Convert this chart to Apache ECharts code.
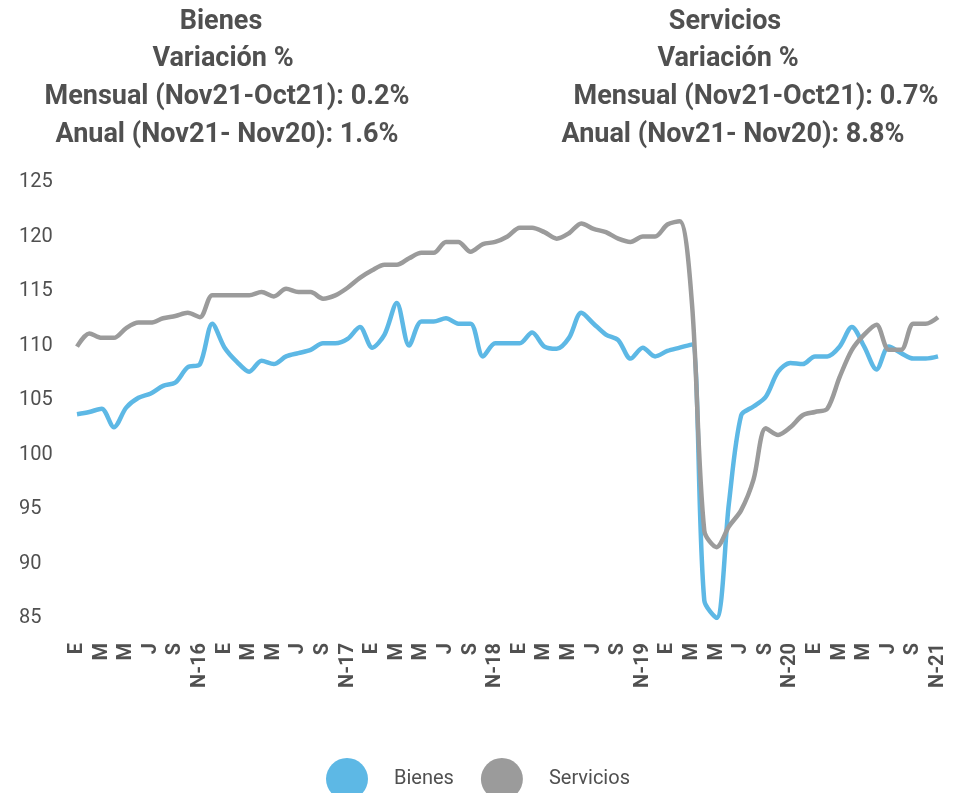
<!DOCTYPE html>
<html>
<head>
<meta charset="utf-8">
<script src="https://cdn.jsdelivr.net/npm/echarts@6/dist/echarts.min.js"></script>
<style>
  html, body { margin: 0; padding: 0; background: #fff; }
  #chart { width: 967px; height: 793px; }
</style>
</head>
<body>
<div id="chart"></div>
<script>
// meses ene-2016 a nov-2021
const meses = [
  'E','F','M','A','M','J','J','A','S','O','N-16','D',
  'E','F','M','A','M','J','J','A','S','O','N-17','D',
  'E','F','M','A','M','J','J','A','S','O','N-18','D',
  'E','F','M','A','M','J','J','A','S','O','N-19','D',
  'E','F','M','A','M','J','J','A','S','O','N-20','D',
  'E','F','M','A','M','J','J','A','S','O','N-21'
];

const bienes = [
  103.7, 103.9, 104.2, 102.5, 104.3, 105.2, 105.6, 106.3, 106.6, 108.0, 108.3, 112.0,
  109.8, 108.5, 107.6, 108.6, 108.3, 109.0, 109.3, 109.6, 110.2, 110.2, 110.6, 111.7,
  109.8, 111.0, 113.9, 110.0, 112.2, 112.2, 112.5, 112.0, 112.0, 109.0, 110.2, 110.2,
  110.2, 111.2, 109.9, 109.7, 110.7, 113.0, 112.0, 111.0, 110.5, 108.8, 109.8, 109.0,
  109.5, 109.8, 110.1, 86.6, 85.0, 95.5, 103.6, 104.4, 105.3, 107.6, 108.4, 108.3,
  109.0, 109.0, 109.9, 111.7, 109.9, 107.8, 109.9, 109.3, 108.8, 108.8, 109.0
];

const servicios = [
  109.9, 111.1, 110.7, 110.7, 111.6, 112.1, 112.1, 112.5, 112.7, 113.0, 112.6, 114.6,
  114.6, 114.6, 114.6, 114.9, 114.5, 115.2, 114.9, 114.9, 114.3, 114.6, 115.3, 116.2,
  116.9, 117.4, 117.4, 118.0, 118.5, 118.5, 119.5, 119.5, 118.6, 119.3, 119.5, 120.0,
  120.8, 120.8, 120.4, 119.8, 120.3, 121.2, 120.7, 120.4, 119.8, 119.5, 120.0, 120.0,
  121.1, 121.4, 113.8, 93.0, 91.5, 93.4, 94.9, 97.7, 102.4, 101.8, 102.5, 103.6,
  103.9, 104.2, 107.1, 109.6, 111.0, 111.9, 109.6, 109.6, 112.0, 112.0, 112.6
];

const tituloBienes = ['Bienes', 'Variación %', 'Mensual (Nov21-Oct21): 0.2%', 'Anual (Nov21- Nov20): 1.6%'];
const tituloServicios = ['Servicios', 'Variación %', 'Mensual (Nov21-Oct21): 0.7%', 'Anual (Nov21- Nov20): 8.8%'];

const AZUL = '#5db8e5';
const GRIS = '#9b9b9b';
const TEXTO = '#505050';

const chart = echarts.init(document.getElementById('chart'));

const filasY = [22, 59, 97, 135];
const centrosBienes = [221, 223, 227, 227];
const centrosServicios = [725, 728, 756, 733];

const textos = [];
tituloBienes.forEach((t, i) => {
  textos.push({
    type: 'text', x: centrosBienes[i], y: filasY[i],
    style: { text: t, textAlign: 'center', textVerticalAlign: 'middle',
      font: 'bold 27px Roboto', fill: TEXTO }
  });
});
tituloServicios.forEach((t, i) => {
  textos.push({
    type: 'text', x: centrosServicios[i], y: filasY[i],
    style: { text: t, textAlign: 'center', textVerticalAlign: 'middle',
      font: 'bold 27px Roboto', fill: TEXTO }
  });
});

chart.setOption({
  animation: false,
  textStyle: { fontFamily: 'Roboto' },
  graphic: textos,
  grid: { left: 77, right: 29, top: 182, bottom: 175 },
  legend: {
    data: ['Bienes', 'Servicios'],
    top: 753,
    left: 321,
    icon: 'circle',
    itemWidth: 42,
    itemHeight: 42,
    itemGap: 27,
    textStyle: { fontSize: 20, color: TEXTO, padding: [0, 0, 0, 21] }
  },
  xAxis: {
    type: 'category',
    data: meses,
    boundaryGap: false,
    axisLine: { show: false },
    axisTick: { show: false },
    axisLabel: {
      interval: 1,
      rotate: 90,
      margin: 25,
      fontSize: 20,
      fontWeight: 'bold',
      color: TEXTO
    }
  },
  yAxis: {
    type: 'value',
    min: 85,
    max: 125,
    interval: 5,
    splitLine: { show: false },
    axisLine: { show: false },
    axisTick: { show: false },
    axisLabel: { align: 'left', margin: 58, fontSize: 20, color: TEXTO }
  },
  series: [
    {
      name: 'Bienes', type: 'line', data: bienes, smooth: 0.3,
      showSymbol: false, color: AZUL, lineStyle: { width: 4.5, color: AZUL }
    },
    {
      name: 'Servicios', type: 'line', data: servicios, smooth: 0.3,
      showSymbol: false, color: GRIS, lineStyle: { width: 4.5, color: GRIS }
    }
  ]
});
</script>
</body>
</html>
